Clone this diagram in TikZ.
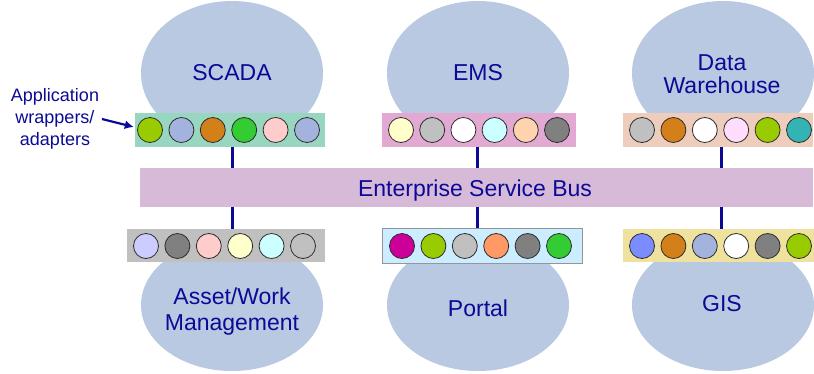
\documentclass[tikz,border=0pt]{standalone}
\usepackage{fontspec}
\setmainfont{Liberation Sans}
\usetikzlibrary{shapes.geometric,arrows.meta}

% text and shape colours
\definecolor{ink}{RGB}{10,10,150}
\definecolor{appfill}{RGB}{185,201,225}
\definecolor{esbfill}{RGB}{214,186,216}
\definecolor{plugedge}{RGB}{45,45,45}
% adapter bar colours
\definecolor{scadabarfill}{RGB}{153,214,192}
\definecolor{emsbarfill}{RGB}{226,170,210}
\definecolor{dwbarfill}{RGB}{239,205,189}
\definecolor{assetbarfill}{RGB}{192,192,192}
\definecolor{portalbarfill}{RGB}{204,236,255}
\definecolor{portalbaredge}{RGB}{150,150,150}
\definecolor{gisbarfill}{RGB}{239,226,158}
% adapter colours
\definecolor{lime}{HTML}{99CC00}
\definecolor{steel}{HTML}{A3B3DD}
\definecolor{amber}{HTML}{D4801A}
\definecolor{leaf}{HTML}{33CC33}
\definecolor{rose}{HTML}{FFCCCC}
\definecolor{cream}{HTML}{FFFFCC}
\definecolor{silver}{HTML}{C0C0C0}
\definecolor{ice}{HTML}{CCFFFF}
\definecolor{peach}{HTML}{FFD3AE}
\definecolor{slate}{HTML}{808080}
\definecolor{orchid}{HTML}{FFDDFF}
\definecolor{tealish}{HTML}{33B3B3}
\definecolor{lavender}{HTML}{CCCCFF}
\definecolor{magentish}{HTML}{CC0099}
\definecolor{salmon}{HTML}{FF9966}
\definecolor{periwinkle}{HTML}{7B8CFF}

\begin{document}
\begin{tikzpicture}[x=1pt,y=-1pt,
  app/.style={ellipse, fill=appfill, minimum width=182pt, minimum height=144pt, inner sep=0pt},
  apptext/.style={anchor=base, inner sep=0pt, text=ink, font=\fontsize{23}{25}\selectfont},
  adapterbar/.style={rectangle, inner sep=0pt, draw=none},
  plug/.style={circle, draw=plugedge, line width=0.8pt, minimum size=25pt, inner sep=0pt},
  link/.style={draw=ink, line width=3pt},
]
\useasboundingbox (0,0) rectangle (814,373);

% applications above the bus
\node[app] (scada) at (232,73) {};
\node[app] (ems) at (478,73) {};
\node[app] (dw) at (723,73) {};
% applications below the bus
\node[app, minimum height=132pt] (asset) at (232,305) {};
\node[app, minimum height=132pt] (portal) at (478,305) {};
\node[app, minimum height=132pt] (gis) at (723,305) {};

% application names
\node[apptext] (scadaname) at (232,80) {SCADA};
\node[apptext] (emsname) at (478,80) {EMS};
\node[apptext] (dwname1) at (722,70) {Data};
\node[apptext] (dwname2) at (722,93) {Warehouse};
\node[apptext] (assetname1) at (232,304) {Asset/Work};
\node[apptext] (assetname2) at (232,330) {Management};
\node[apptext] (portalname) at (478,316) {Portal};
\node[apptext] (gisname) at (722,311) {GIS};

% the bus
\node[adapterbar, fill=esbfill, minimum width=673pt, minimum height=39pt] (esb) at (476.5,187.5) {};
\node[apptext] (esbname) at (475,196) {Enterprise Service Bus};

% adapter bars
\node[adapterbar, fill=scadabarfill, minimum width=190pt, minimum height=34pt] (scadabar) at (230,130) {};
\node[adapterbar, fill=emsbarfill, minimum width=194pt, minimum height=34pt] (emsbar) at (479,130) {};
\node[adapterbar, fill=dwbarfill, minimum width=190pt, minimum height=34pt] (dwbar) at (718,130) {};
\node[adapterbar, fill=assetbarfill, minimum width=198pt, minimum height=33pt] (assetbar) at (226,245.5) {};
\node[adapterbar, draw=portalbaredge, line width=1pt, fill=portalbarfill, minimum width=200pt, minimum height=35pt] (portalbar) at (482,245.5) {};
\node[adapterbar, fill=gisbarfill, minimum width=191pt, minimum height=33pt] (gisbar) at (718.5,245.5) {};

% adapters in each bar
\foreach \c [count=\i from 0] in {lime,steel,amber,leaf,rose,steel}
  \node[plug, fill=\c] (scadaplug\i) at (150+31.4*\i,130) {};
\foreach \c [count=\i from 0] in {cream,silver,white,ice,peach,slate}
  \node[plug, fill=\c] (emsplug\i) at (401+31.2*\i,130) {};
\foreach \c [count=\i from 0] in {silver,amber,white,orchid,lime,tealish}
  \node[plug, fill=\c] (dwplug\i) at (642+31.4*\i,130) {};
\foreach \c [count=\i from 0] in {lavender,slate,rose,cream,ice,silver}
  \node[plug, fill=\c] (assetplug\i) at (146+31.4*\i,246) {};
\foreach \c [count=\i from 0] in {magentish,lime,silver,salmon,slate,leaf}
  \node[plug, fill=\c] (portalplug\i) at (402+31.4*\i,246) {};
\foreach \c [count=\i from 0] in {periwinkle,amber,steel,white,slate,lime}
  \node[plug, fill=\c] (gisplug\i) at (642+31.4*\i,246) {};

% links between the adapters and the bus
\draw[link] (232,0 |- scadabar.south) -- (232,0 |- esb.north);
\draw[link] (477,0 |- emsbar.south) -- (477,0 |- esb.north);
\draw[link] (721,0 |- dwbar.south) -- (721,0 |- esb.north);
\draw[link] (232,0 |- esb.south) -- (232,0 |- assetbar.north);
\draw[link] (477,0 |- esb.south) -- (477,0 |- portalbar.north);
\draw[link] (721,0 |- esb.south) -- (721,0 |- gisbar.north);

% callout
\node[align=center, text=ink, font=\fontsize{18}{22}\selectfont] (callout) at (55,119)
  {Application\\wrappers/\\adapters};
\coordinate (callouttail) at (102,119);
\draw[ink, line width=2.2pt, -{Latex[length=9pt,width=9pt]}]
  (callouttail) -- ([yshift=3pt,xshift=-1pt]scadabar.west);
\end{tikzpicture}
\end{document}
